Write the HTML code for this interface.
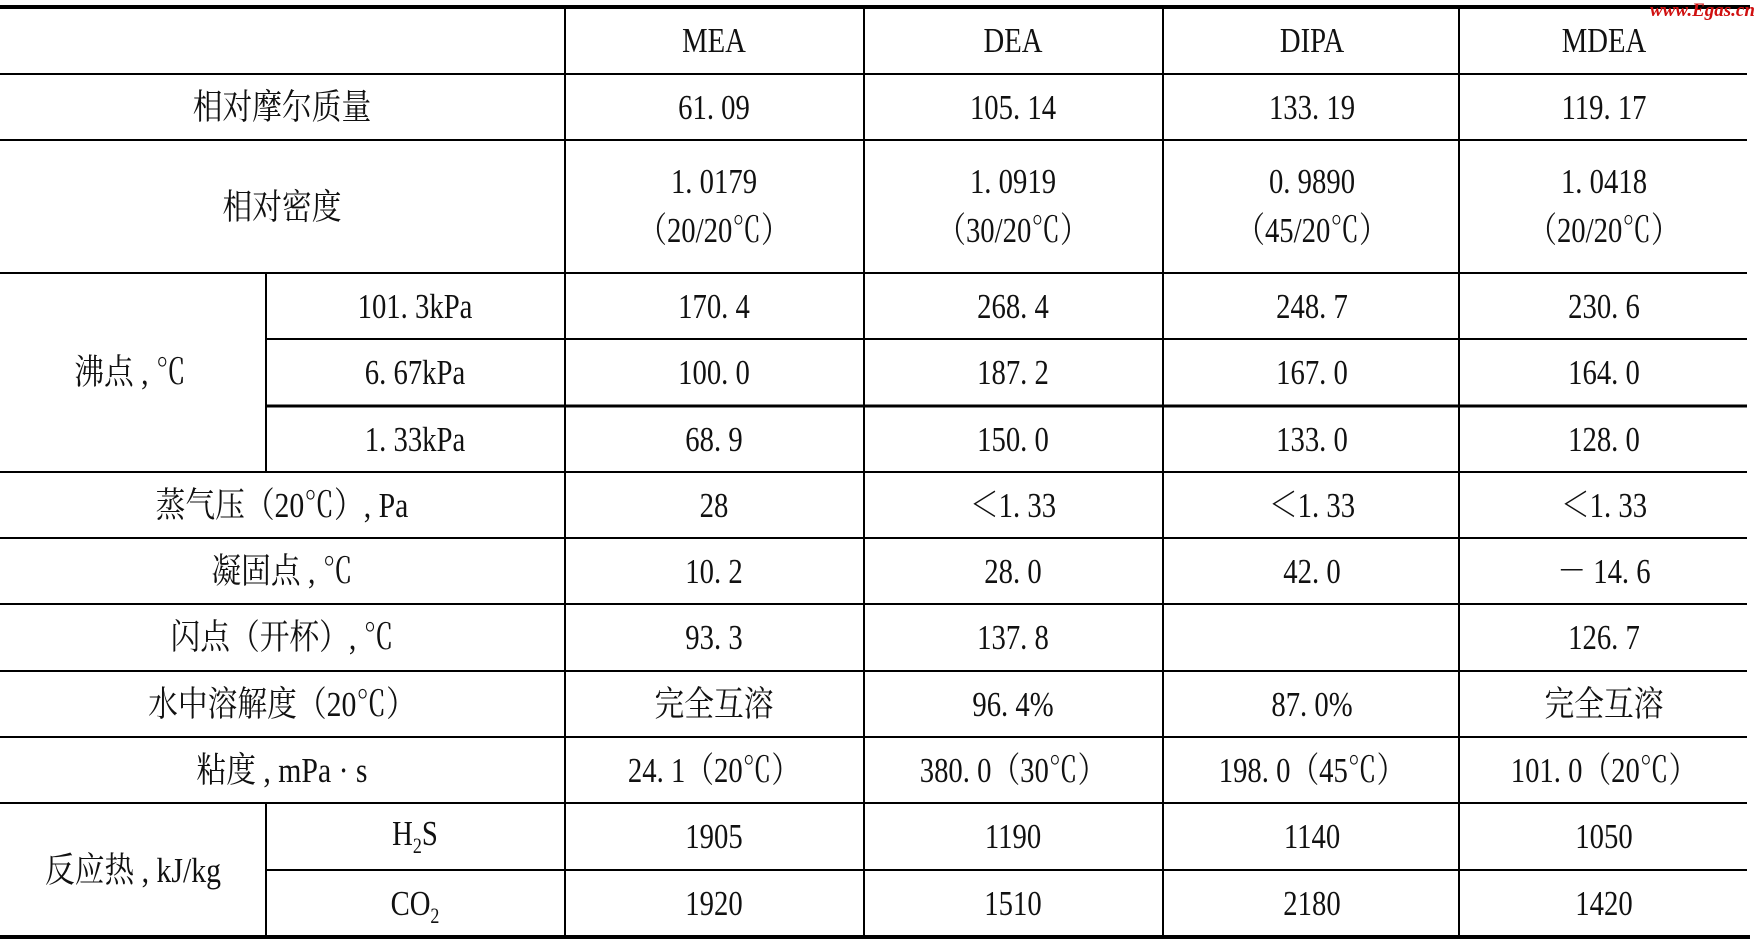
<!DOCTYPE html>
<html><head><meta charset="utf-8"><style>
html,body{margin:0;padding:0;background:#fff;width:1758px;height:949px;overflow:hidden}
text{font-family:"Liberation Serif","Noto Serif CJK SC",serif;font-size:35px;fill:#111}
</style></head><body>
<svg width="1758" height="949" xmlns="http://www.w3.org/2000/svg">
<g stroke="#000" stroke-width="2">
<line x1="0" y1="7" x2="1750" y2="7" stroke-width="4"/>
<line x1="0" y1="74" x2="1747" y2="74"/>
<line x1="0" y1="140" x2="1747" y2="140"/>
<line x1="0" y1="273" x2="1747" y2="273"/>
<line x1="266" y1="339" x2="1747" y2="339"/>
<line x1="266" y1="406" x2="1747" y2="406" stroke-width="3"/>
<line x1="0" y1="472" x2="1747" y2="472"/>
<line x1="0" y1="538" x2="1747" y2="538"/>
<line x1="0" y1="604" x2="1747" y2="604"/>
<line x1="0" y1="671" x2="1747" y2="671"/>
<line x1="0" y1="737" x2="1747" y2="737"/>
<line x1="0" y1="803" x2="1747" y2="803"/>
<line x1="266" y1="870" x2="1747" y2="870"/>
<line x1="0" y1="937" x2="1750" y2="937" stroke-width="4"/>
<line x1="266" y1="273" x2="266" y2="472"/>
<line x1="266" y1="803" x2="266" y2="937"/>
<line x1="565" y1="7" x2="565" y2="937"/>
<line x1="864" y1="7" x2="864" y2="937"/>
<line x1="1163" y1="7" x2="1163" y2="937"/>
<line x1="1459" y1="7" x2="1459" y2="937"/>
</g>
<g text-anchor="middle">
<text transform="translate(714,52) scale(0.82,1)">MEA</text>
<text transform="translate(1013,52) scale(0.82,1)">DEA</text>
<text transform="translate(1312,52) scale(0.82,1)">DIPA</text>
<text transform="translate(1604,52) scale(0.82,1)">MDEA</text>
<text transform="translate(282,119) scale(0.85,1)">相对摩尔质量</text>
<text transform="translate(714,119) scale(0.82,1)">61. 09</text>
<text transform="translate(1013,119) scale(0.82,1)">105. 14</text>
<text transform="translate(1312,119) scale(0.82,1)">133. 19</text>
<text transform="translate(1604,119) scale(0.82,1)">119. 17</text>
<text transform="translate(282,219) scale(0.85,1)">相对密度</text>
<text transform="translate(714,193) scale(0.82,1)">1. 0179</text>
<text transform="translate(714,242) scale(0.82,1)">（20/20℃）</text>
<text transform="translate(1013,193) scale(0.82,1)">1. 0919</text>
<text transform="translate(1013,242) scale(0.82,1)">（30/20℃）</text>
<text transform="translate(1312,193) scale(0.82,1)">0. 9890</text>
<text transform="translate(1312,242) scale(0.82,1)">（45/20℃）</text>
<text transform="translate(1604,193) scale(0.82,1)">1. 0418</text>
<text transform="translate(1604,242) scale(0.82,1)">（20/20℃）</text>
<text transform="translate(130,384) scale(0.85,1)">沸点 , ℃</text>
<text transform="translate(415,318) scale(0.82,1)">101. 3kPa</text>
<text transform="translate(415,384) scale(0.82,1)">6. 67kPa</text>
<text transform="translate(415,451) scale(0.82,1)">1. 33kPa</text>
<text transform="translate(714,318) scale(0.82,1)">170. 4</text>
<text transform="translate(1013,318) scale(0.82,1)">268. 4</text>
<text transform="translate(1312,318) scale(0.82,1)">248. 7</text>
<text transform="translate(1604,318) scale(0.82,1)">230. 6</text>
<text transform="translate(714,384) scale(0.82,1)">100. 0</text>
<text transform="translate(1013,384) scale(0.82,1)">187. 2</text>
<text transform="translate(1312,384) scale(0.82,1)">167. 0</text>
<text transform="translate(1604,384) scale(0.82,1)">164. 0</text>
<text transform="translate(714,451) scale(0.82,1)">68. 9</text>
<text transform="translate(1013,451) scale(0.82,1)">150. 0</text>
<text transform="translate(1312,451) scale(0.82,1)">133. 0</text>
<text transform="translate(1604,451) scale(0.82,1)">128. 0</text>
<text transform="translate(282,517) scale(0.85,1)">蒸气压（20℃）, Pa</text>
<text transform="translate(714,517) scale(0.82,1)">28</text>
<text transform="translate(1013,517) scale(0.82,1)">＜1. 33</text>
<text transform="translate(1312,517) scale(0.82,1)">＜1. 33</text>
<text transform="translate(1604,517) scale(0.82,1)">＜1. 33</text>
<text transform="translate(282,583) scale(0.85,1)">凝固点 , ℃</text>
<text transform="translate(714,583) scale(0.82,1)">10. 2</text>
<text transform="translate(1013,583) scale(0.82,1)">28. 0</text>
<text transform="translate(1312,583) scale(0.82,1)">42. 0</text>
<text transform="translate(1604,583) scale(0.82,1)">－ 14. 6</text>
<text transform="translate(282,649) scale(0.85,1)">闪点（开杯）, ℃</text>
<text transform="translate(714,649) scale(0.82,1)">93. 3</text>
<text transform="translate(1013,649) scale(0.82,1)">137. 8</text>
<text transform="translate(1604,649) scale(0.82,1)">126. 7</text>
<text transform="translate(282,716) scale(0.85,1)">水中溶解度（20℃）</text>
<text transform="translate(714,716) scale(0.85,1)">完全互溶</text>
<text transform="translate(1013,716) scale(0.82,1)">96. 4%</text>
<text transform="translate(1312,716) scale(0.82,1)">87. 0%</text>
<text transform="translate(1604,716) scale(0.85,1)">完全互溶</text>
<text transform="translate(282,782) scale(0.85,1)">粘度 , mPa · s</text>
<text transform="translate(714,782) scale(0.82,1)">24. 1（20℃）</text>
<text transform="translate(1013,782) scale(0.82,1)">380. 0（30℃）</text>
<text transform="translate(1312,782) scale(0.82,1)">198. 0（45℃）</text>
<text transform="translate(1604,782) scale(0.82,1)">101. 0（20℃）</text>
<text transform="translate(133,882) scale(0.85,1)">反应热 , kJ/kg</text>
<text transform="translate(415,845) scale(0.82,1)">H<tspan font-size="22" dy="8">2</tspan><tspan dy="-8">S</tspan></text>
<text transform="translate(415,915) scale(0.82,1)">CO<tspan font-size="22" dy="8">2</tspan></text>
<text transform="translate(714,848) scale(0.82,1)">1905</text>
<text transform="translate(1013,848) scale(0.82,1)">1190</text>
<text transform="translate(1312,848) scale(0.82,1)">1140</text>
<text transform="translate(1604,848) scale(0.82,1)">1050</text>
<text transform="translate(714,915) scale(0.82,1)">1920</text>
<text transform="translate(1013,915) scale(0.82,1)">1510</text>
<text transform="translate(1312,915) scale(0.82,1)">2180</text>
<text transform="translate(1604,915) scale(0.82,1)">1420</text>
</g>
<text x="1650" y="16" style="font-size:19px;fill:#d01010;font-style:italic;font-weight:bold">www.Egas.cn</text>
</svg>
</body></html>
